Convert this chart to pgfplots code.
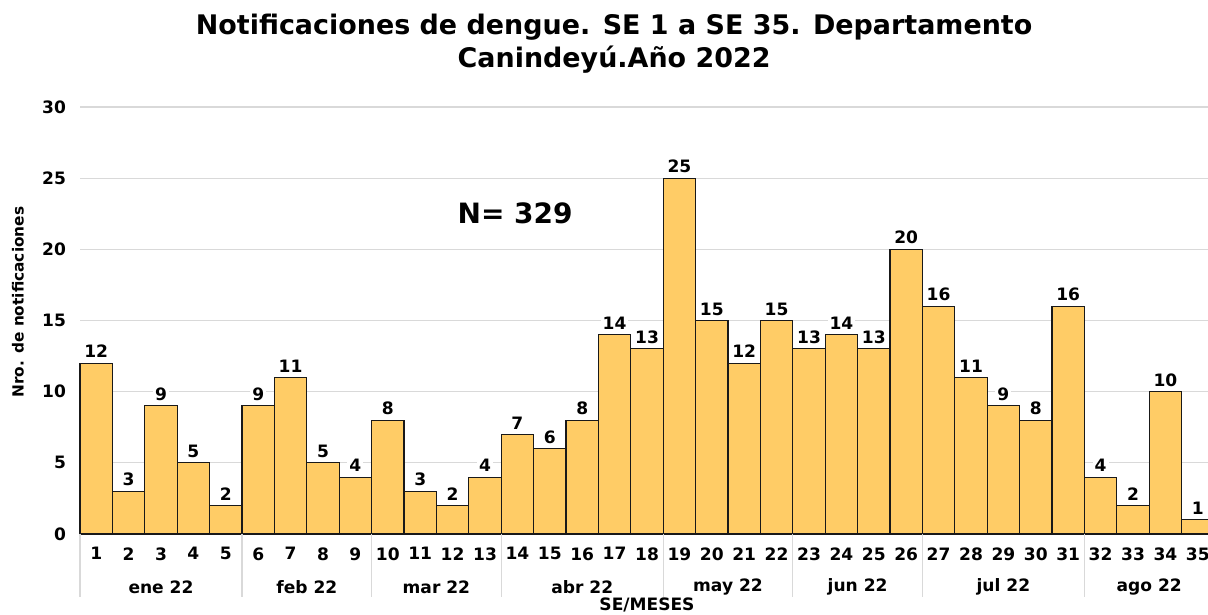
\documentclass[border=0pt]{standalone}
\usepackage{pgfplots}
\pgfplotsset{compat=1.18}
\usepackage{fontspec}
\setmainfont{DejaVu Sans}
\definecolor{barfill}{RGB}{255,204,102}
\definecolor{gridgray}{RGB}{217,217,217}
\begin{document}
\begin{tikzpicture}
\begin{axis}[
  scale only axis,
  width=850.5pt, height=320.25pt,
  xmin=0.5, xmax=35.5,
  ymin=0, ymax=30,
  ytick={0,5,...,30},
  xtick={1,...,35},
  axis x line*=bottom,
  axis y line*=left,
  y axis line style={draw=none},
  x axis line style={gridgray, -},
  ymajorgrids, grid style={gridgray, line width=0.8pt},
  major tick length=0pt,
  clip=false,
  ybar, bar width=1,
  tick label style={font=\fontsize{12.8}{14}\selectfont\bfseries},
  yticklabel style={xshift=-7pt},
  xticklabel style={yshift=-6.5pt},
  /pgf/number format/assume math mode=true,
  xlabel={SE/MESES},
  xlabel style={font=\fontsize{12.8}{14}\selectfont\bfseries, at={(axis description cs:0.5,0)}, anchor=center, yshift=-53pt},
  ylabel={Nro. de notificaciones},
  ylabel style={font=\fontsize{11.5}{12}\selectfont\bfseries, at={(axis description cs:-0.0547,0.543)}, anchor=center, rotate=0},
  nodes near coords,
  every node near coord/.append style={font=\fontsize{12.8}{14}\selectfont\bfseries, fill=white, inner sep=1.5pt, yshift=2pt},
]
\addplot[fill=barfill, draw=black!90, line width=0.8pt] coordinates {
(1,12)(2,3)(3,9)(4,5)(5,2)(6,9)(7,11)(8,5)(9,4)(10,8)(11,3)(12,2)(13,4)
(14,7)(15,6)(16,8)(17,14)(18,13)(19,25)(20,15)(21,12)(22,15)
(23,13)(24,14)(25,13)(26,20)(27,16)(28,11)(29,9)(30,8)(31,16)
(32,4)(33,2)(34,10)(35,1)};
\pgfplotsinvokeforeach{0.5,5.5,9.5,13.5,18.5,22.5,26.5,31.5,35.5}{
  \draw[gridgray, line width=0.8pt] (axis cs:#1,0) -- ([yshift=-47pt]axis cs:#1,0);
}
\node[font=\fontsize{12.8}{14}\selectfont\bfseries] at ([yshift=-40pt]axis cs:3,0) {ene 22};
\node[font=\fontsize{12.8}{14}\selectfont\bfseries] at ([yshift=-40pt]axis cs:7.5,0) {feb 22};
\node[font=\fontsize{12.8}{14}\selectfont\bfseries] at ([yshift=-40pt]axis cs:11.5,0) {mar 22};
\node[font=\fontsize{12.8}{14}\selectfont\bfseries] at ([yshift=-40pt]axis cs:16,0) {abr 22};
\node[font=\fontsize{12.8}{14}\selectfont\bfseries] at ([yshift=-40pt]axis cs:20.5,0) {may 22};
\node[font=\fontsize{12.8}{14}\selectfont\bfseries] at ([yshift=-40pt]axis cs:24.5,0) {jun 22};
\node[font=\fontsize{12.8}{14}\selectfont\bfseries] at ([yshift=-40pt]axis cs:29,0) {jul 22};
\node[font=\fontsize{12.8}{14}\selectfont\bfseries] at ([yshift=-40pt]axis cs:33.5,0) {ago 22};
\node[font=\fontsize{21}{24}\selectfont\bfseries] at (axis cs:13.93,22.56) {N= 329};
\node[font=\fontsize{20.2}{25}\selectfont\bfseries, align=center] at (axis description cs:0.471,1.148) {Notificaciones de dengue. SE 1 a SE 35. Departamento\\Canindeyú.Año 2022};
\coordinate (BL) at ([xshift=-60pt,yshift=-60.75pt]rel axis cs:0,0);
\coordinate (TR) at ([xshift=-4.5pt,yshift=80.25pt]rel axis cs:1,1);
\end{axis}
\pgfresetboundingbox
\path[use as bounding box] (BL) rectangle (TR);
\end{tikzpicture}
\end{document}
